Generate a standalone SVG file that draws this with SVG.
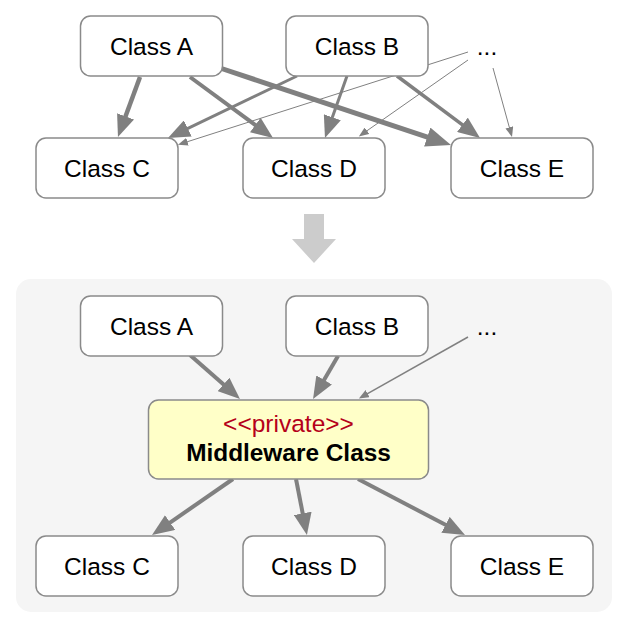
<svg xmlns="http://www.w3.org/2000/svg" width="627" height="628" viewBox="0 0 627 628">
<defs>
<style>
.node rect{fill:#fff;stroke:#8a8a8a;stroke-width:1.5}
.lbl{font-family:"Liberation Sans",Arial,sans-serif;font-size:24.5px;fill:#000;text-anchor:middle}
.e{fill:none;stroke:#808080}
</style>
<marker id="big" markerUnits="userSpaceOnUse" markerWidth="23" markerHeight="18" refX="1" refY="9" orient="auto"><path d="M0,0 L22,9 L0,18 z" fill="#808080"/></marker>
<marker id="huge" markerUnits="userSpaceOnUse" markerWidth="26" markerHeight="20" refX="1" refY="10" orient="auto"><path d="M0,0 L25,10 L0,20 z" fill="#808080"/></marker>
<marker id="small" markerUnits="userSpaceOnUse" markerWidth="11" markerHeight="8" refX="1" refY="4" orient="auto"><path d="M0,0 L10,4 L0,8 z" fill="#808080"/></marker>
</defs>
<rect width="627" height="628" fill="#fff"/>
<rect id="panel" x="16" y="279" width="596" height="333" rx="15" fill="#f5f5f5"/>
<polygon id="bigarrow" points="304,214 324,214 324,239 336,239 314,263 292,239 304,239" fill="#cccccc"/>
<g id="connectors">
<line class="e" x1="140" y1="77" x2="125.2" y2="117.3" stroke-width="4.5" marker-end="url(#big)"/>
<line class="e" x1="190" y1="77" x2="256.1" y2="125.6" stroke-width="4" marker-end="url(#big)"/>
<line class="e" x1="220" y1="68" x2="428.2" y2="137.4" stroke-width="5" marker-end="url(#huge)"/>
<line class="e" x1="297" y1="76" x2="186.9" y2="128.9" stroke-width="3" marker-end="url(#big)"/>
<line class="e" x1="347" y1="76" x2="332" y2="118.2" stroke-width="3" marker-end="url(#big)"/>
<line class="e" x1="397" y1="76" x2="463.2" y2="125.4" stroke-width="3.5" marker-end="url(#big)"/>
<line class="e" x1="468" y1="52" x2="186.5" y2="142" stroke-width="1" marker-end="url(#small)"/>
<line class="e" x1="468" y1="60" x2="366.2" y2="131.3" stroke-width="1" marker-end="url(#small)"/>
<line class="e" x1="493" y1="68" x2="509.6" y2="128.3" stroke-width="1" marker-end="url(#small)"/>
<line class="e" x1="190" y1="355" x2="224.2" y2="385.1" stroke-width="4" marker-end="url(#big)"/>
<line class="e" x1="338" y1="356" x2="323.6" y2="380.8" stroke-width="4" marker-end="url(#big)"/>
<line class="e" x1="468" y1="337" x2="366.7" y2="394.1" stroke-width="1.5" marker-end="url(#small)"/>
<line class="e" x1="233" y1="479" x2="169.3" y2="523.1" stroke-width="4" marker-end="url(#big)"/>
<line class="e" x1="296" y1="479" x2="302.9" y2="514.4" stroke-width="4" marker-end="url(#big)"/>
<line class="e" x1="358" y1="479" x2="446.4" y2="525.3" stroke-width="4" marker-end="url(#big)"/>
</g>
<g id="top-A" class="node"><rect x="80.5" y="16" width="142" height="60" rx="10"/><text class="lbl" x="151.5" y="55">Class A</text></g>
<g id="top-B" class="node"><rect x="286" y="16" width="142" height="60" rx="10"/><text class="lbl" x="357" y="55">Class B</text></g>
<g id="top-more"><text class="lbl" x="487" y="55">...</text></g>
<g id="top-C" class="node"><rect x="36" y="138" width="142" height="60" rx="10"/><text class="lbl" x="107" y="177">Class C</text></g>
<g id="top-D" class="node"><rect x="243" y="138" width="142" height="60" rx="10"/><text class="lbl" x="314" y="177">Class D</text></g>
<g id="top-E" class="node"><rect x="451" y="138" width="142" height="60" rx="10"/><text class="lbl" x="522" y="177">Class E</text></g>
<g id="bot-A" class="node"><rect x="80.5" y="296" width="142" height="60" rx="10"/><text class="lbl" x="151.5" y="335">Class A</text></g>
<g id="bot-B" class="node"><rect x="286" y="296" width="142" height="60" rx="10"/><text class="lbl" x="357" y="335">Class B</text></g>
<g id="bot-more"><text class="lbl" x="487" y="335">...</text></g>
<g id="middleware" class="node"><rect x="148.5" y="400" width="280" height="79" rx="10" style="fill:#ffffc8"/>
<text x="288.5" y="432" font-family="Liberation Sans, Arial, sans-serif" font-size="24.5" fill="#b5001a" text-anchor="middle">&lt;&lt;private&gt;&gt;</text>
<text x="288.5" y="461" font-family="Liberation Sans, Arial, sans-serif" font-size="24.4" font-weight="bold" fill="#000" text-anchor="middle">Middleware Class</text></g>
<g id="bot-C" class="node"><rect x="36" y="536" width="142" height="60" rx="10"/><text class="lbl" x="107" y="575">Class C</text></g>
<g id="bot-D" class="node"><rect x="243" y="536" width="142" height="60" rx="10"/><text class="lbl" x="314" y="575">Class D</text></g>
<g id="bot-E" class="node"><rect x="451" y="536" width="142" height="60" rx="10"/><text class="lbl" x="522" y="575">Class E</text></g>
</svg>
